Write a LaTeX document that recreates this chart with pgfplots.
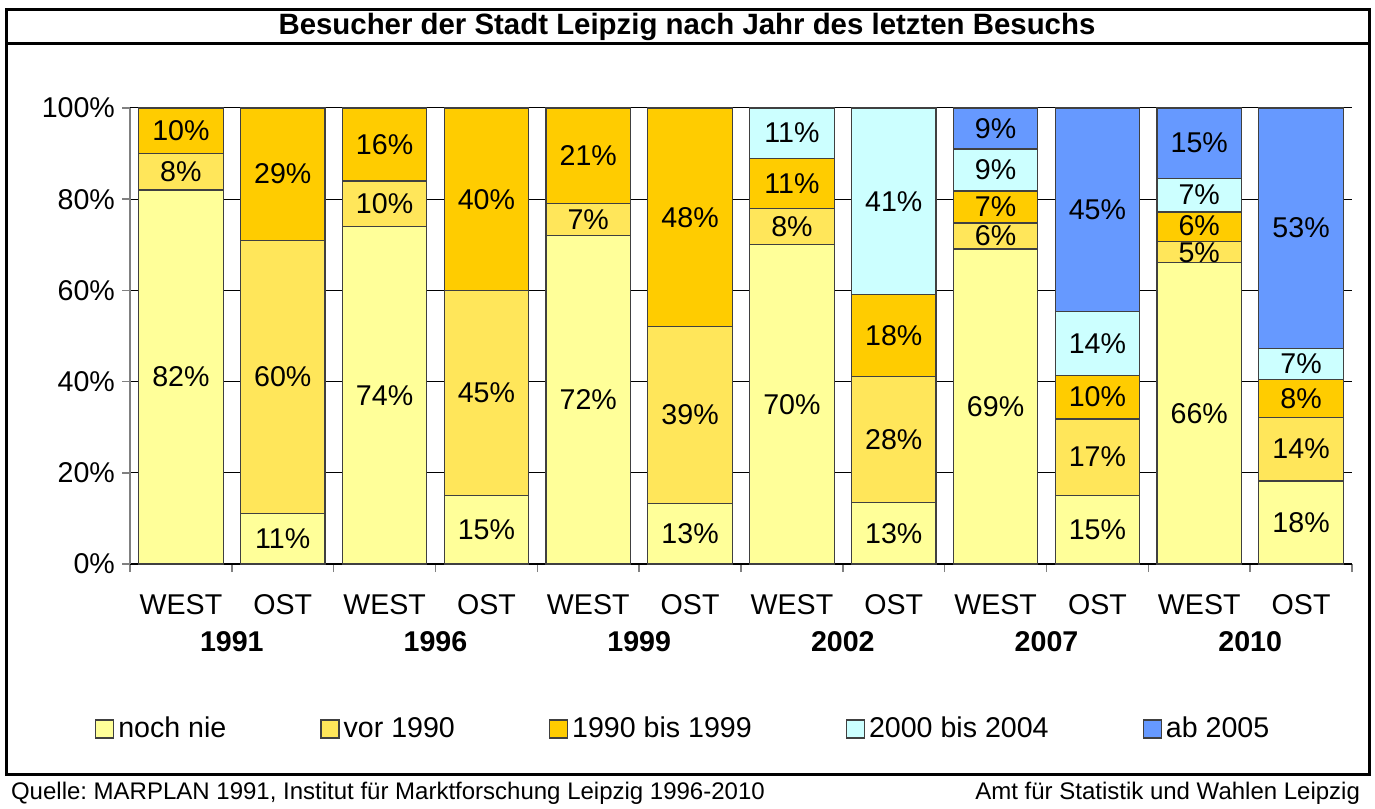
\documentclass[border=0pt]{standalone}
\usepackage{fontspec}
\setmainfont{Liberation Sans}
\usepackage{pgfplots}
\usepackage{pgfplotstable}
\pgfplotsset{compat=1.18}
\frenchspacing
\definecolor{nie}{HTML}{FFFF99}
\definecolor{vor}{HTML}{FFE65A}
\definecolor{neunz}{HTML}{FFCC00}
\definecolor{nullv}{HTML}{CCFFFF}
\definecolor{ab}{HTML}{6699FF}

% share of visitors per bar (WEST/OST per survey year), bottom to top
\pgfplotstableread{
x nie vor neunz nullv ab
0  82   8    10   0    0
1  11   60   29   0    0
2  74   10   16   0    0
3  15   45   40   0    0
4  72   7    21   0    0
5  13.3 38.7 48   0    0
6  70   8    11   11   0
7  13.4 27.7 18   40.9 0
8  69.1 5.7  7.0  9.2  9.0
9  15.1 16.7 9.6  14.0 44.6
10 66.1 4.7  6.4  7.4  15.4
11 18.2 14.0 8.2  6.9  52.7
}\besucher

\newcommand\chfont{\fontsize{14.3}{17}\selectfont}
\pgfplotsset{
  seg/.style={fill=#1, draw=black!75, line width=0.6pt,
    legend image code/.code={\draw[fill=#1, draw=black!75, line width=0.6pt] (0pt,-4.5pt) rectangle (9pt,4.5pt);}},
  frame/.style={at={(0,0)}, anchor=south west, scale only axis, width=611pt, height=228pt,
    xmin=-0.5, xmax=11.5, ymin=0, ymax=100, enlargelimits=false},
}

\begin{document}
\begin{tikzpicture}
\useasboundingbox (-65pt,-122pt) rectangle (622.5pt,282pt);
\begin{axis}[frame, ybar stacked, bar width=0.83,
  axis x line*=bottom, axis y line*=left,
  x axis line style={black, line width=0.8pt},
  y axis line style={black!50, line width=0.8pt},
  xtick={0,...,11},
  xticklabels={WEST,OST,WEST,OST,WEST,OST,WEST,OST,WEST,OST,WEST,OST},
  major x tick style={draw=none},
  minor xtick={-0.5,0.5,...,11.5},
  minor x tick style={black!50, line width=0.8pt},
  minor tick length=4pt, major tick length=4pt, tick align=outside,
  extra x ticks={0.5,2.5,4.5,6.5,8.5,10.5},
  extra x tick labels={\textbf{1991},\textbf{1996},\textbf{1999},\textbf{2002},\textbf{2007},\textbf{2010}},
  extra x tick style={major tick length=0pt, tick label style={yshift=-22.5pt}},
  x tick label style={font=\chfont, yshift=-7.5pt},
  ytick={0,20,...,100}, yticklabel={\pgfmathprintnumber{\tick}\%},
  y tick label style={font=\chfont},
  y tick style={black!50, line width=0.8pt},
  ymajorgrids, grid style={black, line width=0.5pt},
  /pgf/number format/assume math mode=true,
  legend style={at={(0.4535,-0.362)}, anchor=center, draw=none, fill=none,
    legend columns=5, font=\chfont,
    /tikz/every even column/.append style={column sep=45pt}},
  legend cell align=left,
]
\addplot[seg=nie] table[x=x,y=nie]{\besucher};
\addlegendentry{noch nie}
\addplot[seg=vor] table[x=x,y=vor]{\besucher};
\addlegendentry{vor 1990}
\addplot[seg=neunz] table[x=x,y=neunz]{\besucher};
\addlegendentry{1990 bis 1999}
\addplot[seg=nullv] table[x=x,y=nullv]{\besucher};
\addlegendentry{2000 bis 2004}
\addplot[seg=ab] table[x=x,y=ab]{\besucher};
\addlegendentry{ab 2005}
\end{axis}

% value labels at the middle of each segment
\begin{axis}[frame, hide axis]
\addplot[draw=none, mark=none, nodes near coords, point meta=explicit symbolic,
  every node near coord/.append style={anchor=center, font=\chfont, inner sep=0pt}]
coordinates {
(0,41)[82\%] (0,86)[8\%] (0,95)[10\%]
(1,5.5)[11\%] (1,41)[60\%] (1,85.5)[29\%]
(2,37)[74\%] (2,79)[10\%] (2,92)[16\%]
(3,7.5)[15\%] (3,37.5)[45\%] (3,80)[40\%]
(4,36)[72\%] (4,75.5)[7\%] (4,89.5)[21\%]
(5,6.65)[13\%] (5,32.65)[39\%] (5,76)[48\%]
(6,35)[70\%] (6,74)[8\%] (6,83.5)[11\%] (6,94.5)[11\%]
(7,6.7)[13\%] (7,27.25)[28\%] (7,50.1)[18\%] (7,79.55)[41\%]
(8,34.55)[69\%] (8,71.95)[6\%] (8,78.3)[7\%] (8,86.4)[9\%] (8,95.5)[9\%]
(9,7.55)[15\%] (9,23.45)[17\%] (9,36.6)[10\%] (9,48.4)[14\%] (9,77.7)[45\%]
(10,33.05)[66\%] (10,68.3)[5\%] (10,74.2)[6\%] (10,80.9)[7\%] (10,92.3)[15\%]
(11,9.1)[18\%] (11,25.2)[14\%] (11,36.3)[8\%] (11,43.85)[7\%] (11,73.65)[53\%]
};
\end{axis}

\draw[line width=1.5pt] (-61.5pt,-105pt) rectangle (619.5pt,277pt);
\draw[line width=1.5pt] (-61.5pt,260pt) -- (619.5pt,260pt);
\node[font=\fontsize{14.7}{17}\selectfont\bfseries] at (278.5pt,268.5pt) {Besucher der Stadt Leipzig nach Jahr des letzten Besuchs};
\node[font=\fontsize{12}{14}\selectfont, anchor=west] at (-63pt,-114.5pt) {Quelle: MARPLAN 1991, Institut für Marktforschung Leipzig 1996-2010};
\node[font=\fontsize{12}{14}\selectfont, anchor=east] at (618.5pt,-114.5pt) {Amt für Statistik und Wahlen Leipzig};
\end{tikzpicture}
\end{document}
